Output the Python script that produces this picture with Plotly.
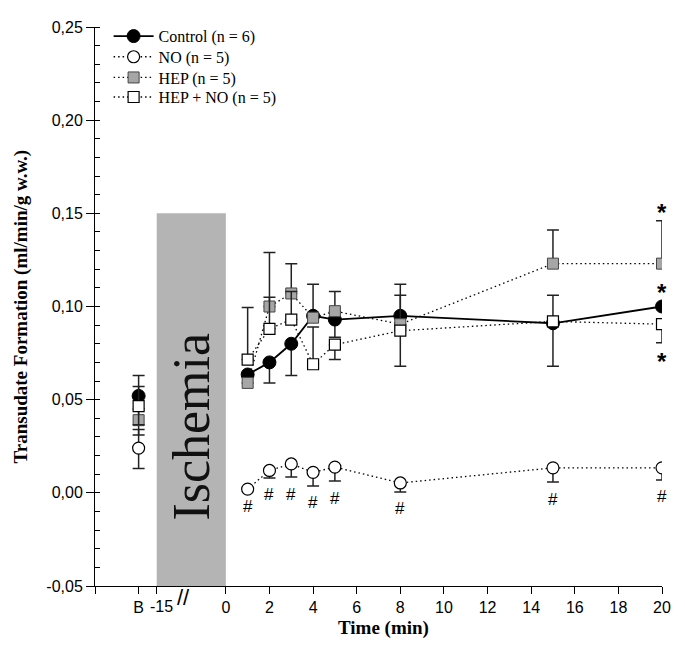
import plotly.graph_objects as go

# ---- data ----
B_POS = -4.0          # position of the baseline "B" on the x axis
ISCH_START = -3.17    # position of the "-15" tick (start of ischemia)
x_pos = [B_POS, 1, 2, 3, 4, 5, 8, 15, 20]

control = [0.052, 0.0635, 0.070, 0.080, 0.095, 0.093, 0.095, 0.091, 0.100]
control_up = [0.011, 0, 0, 0, 0.017, 0.015, 0.017, 0, 0]
control_dn = [0, 0, 0.011, 0.017, 0, 0.0095, 0, 0.023, 0]

no = [0.024, 0.002, 0.012, 0.0155, 0.011, 0.0138, 0.0053, 0.0134, 0.0134]
no_up = [0.010, 0, 0, 0, 0, 0, 0, 0, 0]
no_dn = [0.011, 0, 0.004, 0.007, 0.0073, 0.0075, 0.0048, 0.0076, 0.0065]

hep = [0.039, 0.059, 0.100, 0.107, 0.094, 0.0975, 0.0905, 0.123, 0.123]
hep_up = [0.006, 0, 0.029, 0.016, 0, 0, 0.0155, 0.018, 0.023]
hep_dn = [0.008, 0, 0, 0, 0, 0, 0, 0, 0]

hepno = [0.0465, 0.0715, 0.088, 0.093, 0.069, 0.0795, 0.087, 0.092, 0.0905]
hepno_up = [0.0105, 0.028, 0.017, 0.015, 0.020, 0, 0, 0.014, 0]
hepno_dn = [0.010, 0, 0, 0, 0, 0.008, 0.019, 0, 0.010]

series_names = ["Control (n = 6)", "NO (n = 5)", "HEP (n = 5)", "HEP + NO (n = 5)"]

x_tickvals = [-6, B_POS, ISCH_START, 0, 2, 4, 6, 8, 10, 12, 14, 16, 18, 20]
x_ticktext = ["", "B", "", "0", "2", "4", "6", "8", "10", "12", "14", "16", "18", "20"]
ischemia_start_label = "-15"
y_tickvals = [-0.05, 0.0, 0.05, 0.10, 0.15, 0.20, 0.25]
y_ticktext = ["-0,05", "0,00", "0,05", "0,10", "0,15", "0,20", "0,25"]

# significance marks
hash_x = [1, 2, 3, 4, 5, 8, 15, 20]

SERIF = "Liberation Serif"
SANS = "Liberation Sans"
DOT = "1.5px,3px"

fig = go.Figure()


def err(up, dn):
    return dict(type="data", symmetric=False, array=up, arrayminus=dn,
                color="#222222", thickness=1.5, width=6)


styles = [
    dict(line=dict(color="black", width=1.8),
         marker=dict(symbol="circle", size=13, color="black", line=dict(color="black", width=1))),
    dict(line=dict(color="black", width=1.3, dash=DOT),
         marker=dict(symbol="circle", size=12, color="white", line=dict(color="black", width=1.2))),
    dict(line=dict(color="black", width=1.3, dash=DOT),
         marker=dict(symbol="square", size=11, color="#a6a6a6", line=dict(color="#444444", width=1))),
    dict(line=dict(color="black", width=1.3, dash=DOT),
         marker=dict(symbol="square", size=11, color="white", line=dict(color="black", width=1.2))),
]
values = [control, no, hep, hepno]
ups = [control_up, no_up, hep_up, hepno_up]
dns = [control_dn, no_dn, hep_dn, hepno_dn]
legend_ids = ["legend", "legend2", "legend3", "legend4"]

for k in range(4):
    st = styles[k]
    fig.add_trace(go.Scatter(
        x=x_pos[1:], y=values[k][1:], mode="lines+markers", name=series_names[k],
        line=st["line"], marker=st["marker"],
        error_y=err(ups[k][1:], dns[k][1:]), legendgroup=str(k), legend=legend_ids[k]))
    fig.add_trace(go.Scatter(
        x=x_pos[:1], y=values[k][:1], mode="markers", showlegend=False,
        marker=st["marker"], error_y=err(ups[k][:1], dns[k][:1]),
        legendgroup=str(k), legend=legend_ids[k]))

# ischemia box
fig.add_shape(type="rect", xref="x", yref="y", x0=ISCH_START, x1=0, y0=-0.05, y1=0.15,
              fillcolor="#b4b4b4", line=dict(width=0), layer="below")

annotations = []
annotations.append(dict(x=ISCH_START / 2, y=0.0357, xref="x", yref="y", text="Ischemia",
                        textangle=-90, showarrow=False, xanchor="center", yanchor="middle",
                        font=dict(family=SERIF, size=52, color="#111111")))
# '-15' tick label, set slightly right of its tick as in the original
annotations.append(dict(x=ISCH_START, y=0, xref="x", yref="paper", text=ischemia_start_label,
                        showarrow=False, xshift=5, yshift=-20, xanchor="center", yanchor="middle",
                        font=dict(family=SANS, size=16, color="black")))
# '#' under NO points
for i, t in enumerate(x_pos):
    if t in hash_x:
        annotations.append(dict(x=t, y=no[i] - no_dn[i], xref="x", yref="y", text="#",
                                showarrow=False, yshift=-17, yanchor="middle",
                                font=dict(family=SANS, size=17, color="black")))
# '*' at 20 min
i20 = x_pos.index(20)
star_font = dict(family=SANS, size=24, color="black")
annotations.append(dict(x=20, y=hep[i20] + hep_up[i20], xref="x", yref="y", text="<b>*</b>",
                        showarrow=False, yshift=8, yanchor="middle", font=star_font))
annotations.append(dict(x=20, y=control[i20], xref="x", yref="y", text="<b>*</b>",
                        showarrow=False, yshift=14, yanchor="middle", font=star_font))
annotations.append(dict(x=20, y=hepno[i20] - hepno_dn[i20], xref="x", yref="y", text="<b>*</b>",
                        showarrow=False, yshift=-19, yanchor="middle", font=star_font))
# axis break mark
annotations.append(dict(x=ISCH_START * 0.61, y=0, xref="x", yref="paper", text="//",
                        showarrow=False, yshift=-11, yanchor="middle",
                        font=dict(family=SANS, size=22, color="black")))
# axis titles
annotations.append(dict(x=0.5, y=0, xref="paper", yref="paper", text="<b>Time (min)</b>",
                        showarrow=False, yshift=-42, xshift=5, xanchor="center", yanchor="middle",
                        font=dict(family=SERIF, size=19, color="black")))
annotations.append(dict(x=0, y=0.5, xref="paper", yref="paper",
                        text="<b>Transudate Formation (ml/min/g w.w.)</b>",
                        showarrow=False, xshift=-75, textangle=-90,
                        xanchor="center", yanchor="middle",
                        font=dict(family=SERIF, size=19, color="black")))

leg_common = dict(x=0.024, xanchor="left", yanchor="top",
                  font=dict(family=SERIF, size=16, color="black"),
                  bgcolor="rgba(0,0,0,0)", itemwidth=40)

fig.update_layout(
    width=677, height=638,
    margin=dict(l=87, r=23, t=11, b=60),
    paper_bgcolor="white", plot_bgcolor="white",
    showlegend=True,
    legend=dict(y=1.014, **leg_common),
    legend2=dict(y=0.977, **leg_common),
    legend3=dict(y=0.940, **leg_common),
    legend4=dict(y=0.905, **leg_common),
    annotations=annotations,
    xaxis=dict(range=[-6, 20], tickmode="array", tickvals=x_tickvals, ticktext=x_ticktext,
               ticks="outside", ticklen=7, tickcolor="black", showline=True, linecolor="black",
               linewidth=1, showgrid=False, zeroline=False, tickangle=0,
               tickfont=dict(family=SANS, size=16, color="black")),
    yaxis=dict(range=[-0.05, 0.25], tickmode="array", tickvals=y_tickvals, ticktext=y_ticktext,
               ticks="outside", ticklen=8, tickcolor="black", showline=True, linecolor="black",
               linewidth=1, showgrid=False, zeroline=False,
               minor=dict(dtick=0.01, ticks="inside", ticklen=5, tickcolor="black", showgrid=False),
               tickfont=dict(family=SANS, size=16, color="black")),
)

fig.write_html("out.html")
